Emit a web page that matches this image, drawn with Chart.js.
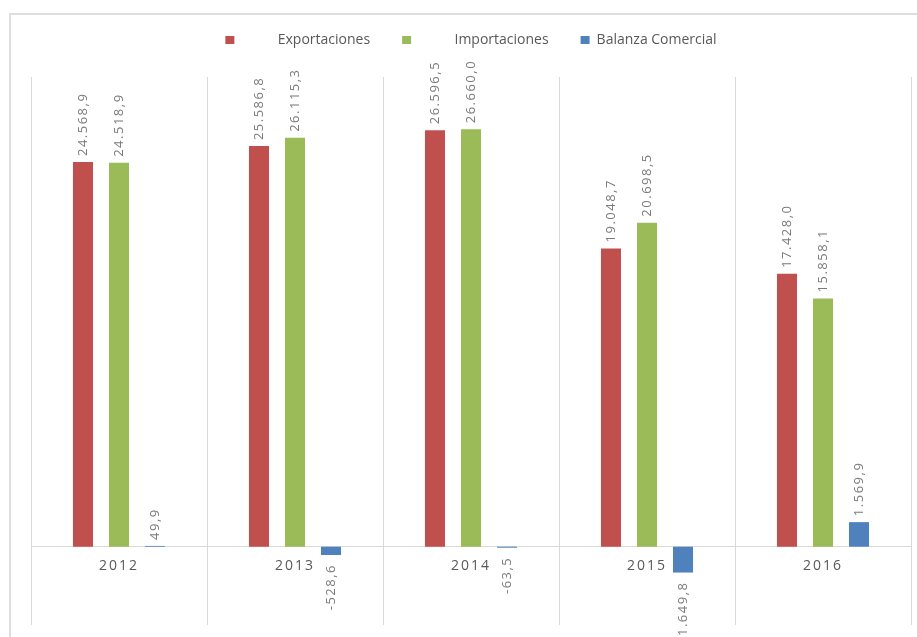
<!DOCTYPE html>
<html lang="es">
<head>
<meta charset="utf-8">
<title>Exportaciones, Importaciones y Balanza Comercial 2012-2016</title>
<script src="https://cdn.jsdelivr.net/npm/chart.js@4.4.1/dist/chart.umd.min.js"></script>
<style>
  html, body { margin: 0; padding: 0; background: #fff; overflow: hidden; }
  #wrap { position: relative; width: 917px; height: 637px; overflow: hidden; }
  #frame { position: absolute; left: 9px; top: 13px; width: 1000px; height: 700px;
           border-top: 2px solid #dedede; border-left: 2px solid #dedede; }
  canvas { position: absolute; left: 0; top: 0; }
</style>
</head>
<body>
<div id="wrap">
  <div id="frame"></div>
  <canvas id="c" width="917" height="637"></canvas>
</div>
<script>
// Categories and series (millones)
const years = ['2012', '2013', '2014', '2015', '2016'];
const exportaciones = [24568.9, 25586.8, 26596.5, 19048.7, 17428.0];
const importaciones = [24518.9, 26115.3, 26660.0, 20698.5, 15858.1];
const balanza = [49.9, -528.6, -63.5, -1649.8, 1569.9];
const seriesNames = ['Exportaciones', 'Importaciones', 'Balanza Comercial'];
const seriesColors = ['#C0504D', '#9BBB59', '#4F81BD'];
const yMin = -5000;
const yMax = 30000;

// 24568.9 -> "24.568,9"
function fmt(v) {
  const neg = v < 0;
  const parts = Math.abs(v).toFixed(1).split('.');
  return (neg ? '-' : '') + parts[0].replace(/\B(?=(\d{3})+(?!\d))/g, '.') + ',' + parts[1];
}

// Empty layout box that leaves room between the legend and the plot
const legendGap = {
  id: 'legendGap',
  beforeInit(chart) {
    const box = {
      position: 'top', weight: 500, fullSize: true, options: {},
      width: 0, height: 0, left: 0, top: 0, right: 0, bottom: 0,
      isHorizontal() { return true; },
      update(maxWidth) { this.width = maxWidth; this.height = 20; },
      draw() {}
    };
    Chart.layouts.addBox(chart, box);
  }
};

// Wider letter spacing for the category labels
const spacedTicks = {
  id: 'spacedTicks',
  afterLayout(chart) {
    const s = chart.scales.x;
    if (s && !s._spaced) {
      const orig = s.drawLabels;
      s.drawLabels = function (area) {
        this.ctx.save();
        this.ctx.letterSpacing = '2px';
        orig.call(this, area);
        this.ctx.restore();
      };
      s._spaced = true;
    }
  }
};

// Rotated value labels above (or below) each bar
const valueLabels = {
  id: 'valueLabels',
  afterDatasetsDraw(chart) {
    const ctx = chart.ctx;
    ctx.save();
    ctx.font = '13px "Open Sans"';
    ctx.fillStyle = '#7a7a7a';
    ctx.letterSpacing = '1.5px';
    ctx.textBaseline = 'middle';
    chart.data.datasets.forEach((ds, di) => {
      chart.getDatasetMeta(di).data.forEach((bar, i) => {
        const v = ds.data[i];
        const up = v >= 0;
        ctx.save();
        ctx.translate(bar.x, up ? bar.y - 6 : bar.y + 9);
        ctx.rotate(-Math.PI / 2);
        ctx.textAlign = up ? 'left' : 'right';
        ctx.fillText(fmt(v), 0, 0);
        ctx.restore();
      });
    });
    ctx.restore();
  }
};

const seriesData = [exportaciones, importaciones, balanza];

new Chart(document.getElementById('c'), {
  type: 'bar',
  data: {
    labels: years,
    datasets: seriesData.map((d, i) => ({
      label: seriesNames[i],
      data: d,
      backgroundColor: seriesColors[i],
      borderWidth: 0,
      categoryPercentage: 0.614,
      barPercentage: 0.556
    }))
  },
  options: {
    responsive: false,
    maintainAspectRatio: false,
    animation: false,
    devicePixelRatio: 1,
    layout: { padding: { top: 1, left: 31, right: 6, bottom: 12 } },
    plugins: {
      tooltip: { enabled: false },
      title: { display: false },
      legend: {
        display: true,
        position: 'top',
        align: 'center',
        labels: {
          boxWidth: 9,
          boxHeight: 8,
          padding: 32,
          color: '#595959',
          font: { family: 'Open Sans', size: 14 },
          generateLabels(chart) {
            return chart.data.datasets.map((ds, i) => ({
              text: (i < 2 ? ' '.repeat(10) : '') + ds.label,
              fillStyle: ds.backgroundColor,
              strokeStyle: ds.backgroundColor,
              fontColor: '#595959',
              lineWidth: 0,
              hidden: false,
              datasetIndex: i
            }));
          }
        }
      }
    },
    scales: {
      x: {
        position: { y: 0 },
        grid: { offset: true, color: '#d9d9d9', lineWidth: 1, drawTicks: false },
        border: { display: true, color: '#d9d9d9', width: 1 },
        ticks: { padding: 11, color: '#595959', font: { family: 'Open Sans', size: 14 } }
      },
      y: {
        display: false,
        min: yMin,
        max: yMax
      }
    }
  },
  plugins: [legendGap, spacedTicks, valueLabels]
});
</script>
</body>
</html>
